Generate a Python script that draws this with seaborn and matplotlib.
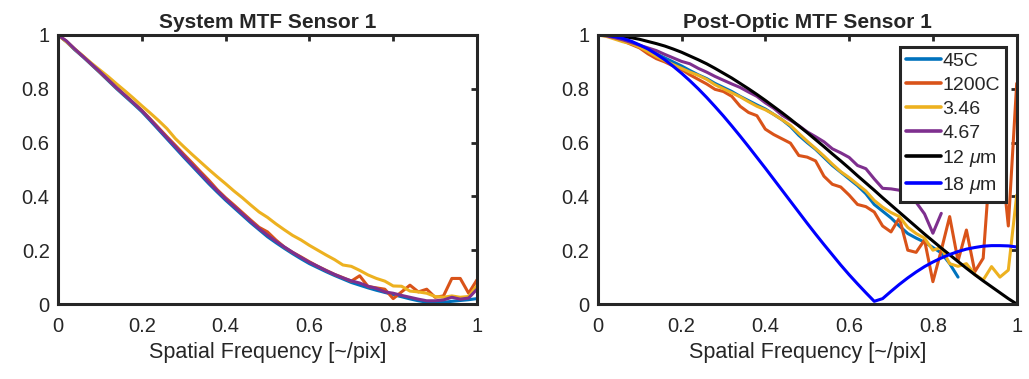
import numpy as np
import pandas as pd
import matplotlib
matplotlib.use("Agg")
import matplotlib.pyplot as plt
import seaborn as sns

# spatial frequency grid [~/pix]
freq = np.round(np.arange(0, 1.0001, 0.02), 2)

# --- System MTF (left panel) ---
sys_45c = [1.000, 0.975, 0.945, 0.918, 0.889, 0.860, 0.830, 0.800, 0.772, 0.744,
           0.715, 0.682, 0.648, 0.614, 0.580, 0.546, 0.513, 0.480, 0.447, 0.416,
           0.386, 0.358, 0.330, 0.302, 0.276, 0.250, 0.228, 0.207, 0.187, 0.168,
           0.150, 0.135, 0.120, 0.106, 0.093, 0.080, 0.070, 0.060, 0.051, 0.043,
           0.035, 0.027, 0.019, 0.012, 0.007, 0.005, 0.006, 0.010, 0.013, 0.016,
           0.020]
sys_1200c = [1.000, 0.977, 0.947, 0.920, 0.891, 0.862, 0.833, 0.803, 0.776, 0.748,
             0.720, 0.688, 0.655, 0.622, 0.590, 0.557, 0.525, 0.492, 0.460, 0.425,
             0.395, 0.368, 0.340, 0.312, 0.285, 0.268, 0.238, 0.212, 0.192, 0.175,
             0.157, 0.140, 0.125, 0.110, 0.098, 0.085, 0.105, 0.065, 0.060, 0.055,
             0.020, 0.045, 0.070, 0.045, 0.055, 0.025, 0.030, 0.095, 0.095, 0.040,
             0.090]
sys_346 = [1.000, 0.975, 0.948, 0.922, 0.895, 0.870, 0.845, 0.818, 0.792, 0.765,
           0.737, 0.710, 0.682, 0.652, 0.615, 0.585, 0.556, 0.528, 0.500, 0.473,
           0.447, 0.420, 0.395, 0.368, 0.342, 0.322, 0.298, 0.276, 0.255, 0.238,
           0.218, 0.200, 0.182, 0.165, 0.145, 0.140, 0.125, 0.108, 0.095, 0.085,
           0.067, 0.066, 0.048, 0.045, 0.040, 0.028, 0.025, 0.030, 0.025, 0.028,
           0.068]
sys_467 = [1.000, 0.978, 0.948, 0.920, 0.892, 0.864, 0.834, 0.804, 0.776, 0.748,
           0.719, 0.686, 0.652, 0.618, 0.585, 0.551, 0.518, 0.485, 0.452, 0.421,
           0.391, 0.363, 0.335, 0.307, 0.280, 0.256, 0.233, 0.212, 0.192, 0.173,
           0.155, 0.140, 0.124, 0.110, 0.097, 0.086, 0.078, 0.066, 0.058, 0.045,
           0.040, 0.032, 0.025, 0.018, 0.012, 0.012, 0.015, 0.025, 0.018, 0.022,
           0.055]

# --- Post-optic MTF (right panel) ---
post_45c = [1.000, 0.998, 0.993, 0.985, 0.972, 0.960, 0.945, 0.930, 0.915, 0.900,
            0.885, 0.868, 0.852, 0.838, 0.820, 0.805, 0.790, 0.772, 0.756, 0.740,
            0.725, 0.705, 0.685, 0.660, 0.627, 0.600, 0.575, 0.545, 0.515, 0.490,
            0.465, 0.440, 0.410, 0.370, 0.345, 0.320, 0.290, 0.262, 0.245, 0.230,
            0.210, 0.190, 0.150, 0.100]
post_1200c = [1.000, 0.998, 0.990, 0.978, 0.965, 0.952, 0.930, 0.912, 0.900, 0.885,
              0.872, 0.852, 0.835, 0.818, 0.798, 0.790, 0.772, 0.735, 0.712, 0.700,
              0.650, 0.630, 0.614, 0.598, 0.552, 0.546, 0.532, 0.475, 0.445, 0.435,
              0.405, 0.370, 0.362, 0.342, 0.290, 0.268, 0.320, 0.200, 0.192, 0.238,
              0.083, 0.200, 0.325, 0.160, 0.275, 0.120, 0.170, 0.600, 0.600, 0.290,
              0.820]
post_346 = [1.000, 0.995, 0.985, 0.975, 0.968, 0.955, 0.938, 0.920, 0.905, 0.890,
            0.876, 0.862, 0.850, 0.835, 0.815, 0.800, 0.785, 0.770, 0.752, 0.735,
            0.722, 0.705, 0.685, 0.664, 0.634, 0.605, 0.578, 0.550, 0.520, 0.492,
            0.470, 0.445, 0.420, 0.385, 0.360, 0.340, 0.325, 0.285, 0.262, 0.245,
            0.200, 0.210, 0.150, 0.140, 0.150, 0.110, 0.089, 0.139, 0.100, 0.126,
            0.405]
post_467 = [1.000, 0.997, 0.990, 0.982, 0.972, 0.962, 0.952, 0.942, 0.928, 0.915,
            0.902, 0.893, 0.876, 0.862, 0.846, 0.832, 0.818, 0.805, 0.788, 0.772,
            0.748, 0.728, 0.702, 0.683, 0.663, 0.640, 0.622, 0.603, 0.577, 0.562,
            0.545, 0.515, 0.503, 0.465, 0.430, 0.428, 0.423, 0.395, 0.378, 0.335,
            0.263, 0.337]
pix_12um = [1.000, 0.999, 0.997, 0.994, 0.990, 0.984, 0.976, 0.968, 0.959, 0.948,
            0.936, 0.922, 0.908, 0.893, 0.876, 0.858, 0.840, 0.820, 0.800, 0.779,
            0.757, 0.734, 0.711, 0.687, 0.662, 0.637, 0.611, 0.585, 0.558, 0.532,
            0.505, 0.477, 0.450, 0.423, 0.395, 0.368, 0.341, 0.314, 0.287, 0.260,
            0.234, 0.208, 0.183, 0.158, 0.133, 0.109, 0.086, 0.064, 0.042, 0.020,
            0.000]
pix_18um = [1.000, 0.999, 0.994, 0.987, 0.977, 0.963, 0.948, 0.929, 0.908, 0.884,
            0.858, 0.830, 0.800, 0.768, 0.734, 0.699, 0.662, 0.624, 0.585, 0.545,
            0.505, 0.464, 0.423, 0.382, 0.341, 0.300, 0.260, 0.221, 0.183, 0.145,
            0.109, 0.075, 0.042, 0.010, 0.020, 0.047, 0.073, 0.097, 0.119, 0.139,
            0.156, 0.171, 0.184, 0.195, 0.204, 0.210, 0.215, 0.217, 0.217, 0.216,
            0.212]

colors = {"45C": "#0072BD", "1200C": "#D95319", "3.46": "#EDB120",
          "4.67": "#7E2F8E", r"12 $\mu$m": "black", r"18 $\mu$m": "#0000FF"}


def long_form(series):
    frames = []
    for name, vals in series:
        frames.append(pd.DataFrame({"freq": freq[:len(vals)], "mtf": vals, "curve": name}))
    return pd.concat(frames, ignore_index=True)


left_df = long_form([("45C", sys_45c), ("1200C", sys_1200c),
                     ("3.46", sys_346), ("4.67", sys_467)])
right_df = long_form([("45C", post_45c), ("1200C", post_1200c),
                      ("3.46", post_346), ("4.67", post_467),
                      (r"12 $\mu$m", pix_12um), (r"18 $\mu$m", pix_18um)])

sns.set_style("white")
plt.rcParams["font.family"] = ["Liberation Sans", "DejaVu Sans"]
plt.rcParams["mathtext.fontset"] = "custom"
plt.rcParams["mathtext.it"] = "Liberation Sans:italic"

fig = plt.figure(figsize=(10.29, 3.79), dpi=100)
ax1 = fig.add_axes([58 / 1029, 75 / 379, 419 / 1029, 269 / 379])
ax2 = fig.add_axes([597.7 / 1029, 75 / 379, 419 / 1029, 269 / 379])

sns.lineplot(data=left_df, x="freq", y="mtf", hue="curve", palette=colors,
             estimator=None, sort=False, linewidth=2.2, ax=ax1, legend=False)
sns.lineplot(data=right_df, x="freq", y="mtf", hue="curve", palette=colors,
             estimator=None, sort=False, linewidth=2.2, ax=ax2)

for ax, title in [(ax1, "System MTF Sensor 1"), (ax2, "Post-Optic MTF Sensor 1")]:
    ax.set_xlim(0, 1)
    ax.set_ylim(0, 1)
    ax.set_xticks([0, 0.2, 0.4, 0.6, 0.8, 1])
    ax.set_yticks([0, 0.2, 0.4, 0.6, 0.8, 1])
    ax.set_xticklabels(["0", "0.2", "0.4", "0.6", "0.8", "1"])
    ax.set_yticklabels(["0", "0.2", "0.4", "0.6", "0.8", "1"])
    ax.tick_params(direction="in", length=4, width=2, top=True, right=True,
                   labelsize=14.5, colors="#262626", pad=6)
    ax.tick_params(axis="x", pad=9)
    for sp in ax.spines.values():
        sp.set_visible(True)
        sp.set_linewidth(2.2)
        sp.set_color("#262626")
    ax.set_title(title, fontsize=15, fontweight="bold", pad=5)
    ax.set_xlabel("Spatial Frequency [~/pix]", fontsize=15.5, color="#262626", labelpad=5)
    ax.set_ylabel("")

leg = ax2.legend(loc="upper right", bbox_to_anchor=(0.974, 0.957), fontsize=14,
                 frameon=True, fancybox=False, framealpha=1, edgecolor="#262626",
                 handlelength=1.8, handletextpad=0.1, labelspacing=0.32,
                 borderpad=0.3, borderaxespad=0)
leg.get_frame().set_linewidth(2.2)
for line in leg.get_lines():
    line.set_linewidth(2.6)

fig.savefig("out.png", dpi=100)
